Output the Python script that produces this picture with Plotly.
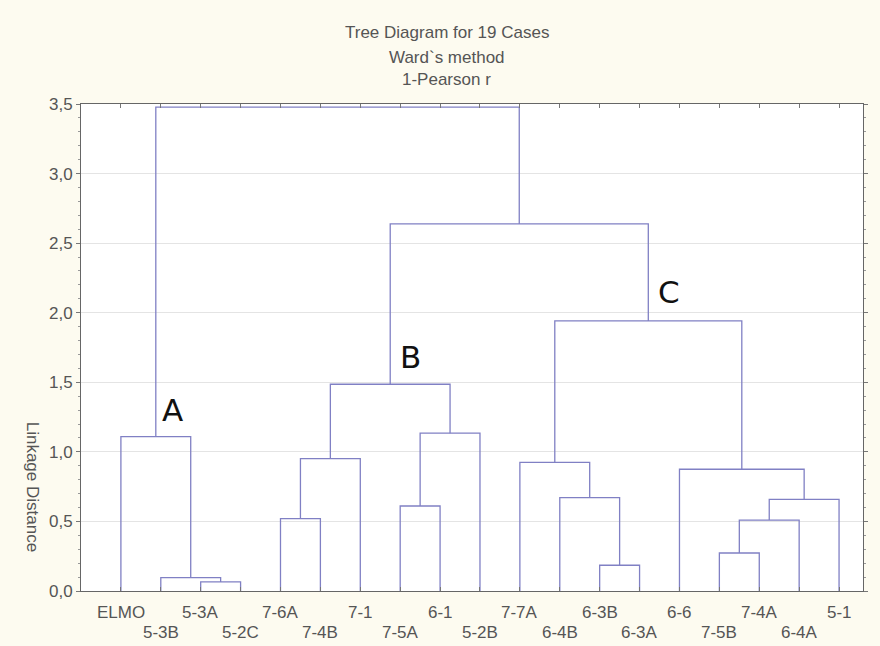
import plotly.graph_objects as go

# Leaves in dendrogram order
leaves = ["ELMO", "5-3B", "5-3A", "5-2C", "7-6A", "7-4B", "7-1", "7-5A", "6-1",
          "5-2B", "7-7A", "6-4B", "6-3B", "6-3A", "6-6", "7-5B", "7-4A", "6-4A", "5-1"]

# Ward's linkage (1 - Pearson r): clusters are referenced by leaf name or by
# the index of an earlier merge ("m<k>")
merge_left = ["5-3A", "5-3B", "ELMO", "7-6A", "m3", "7-5A", "m5", "m4",
              "6-3B", "6-4B", "7-7A", "7-5B", "m11", "m12", "6-6", "m10", "m7", "m2"]
merge_right = ["5-2C", "m0", "m1", "7-4B", "7-1", "6-1", "5-2B", "m6",
               "6-3A", "m8", "m9", "7-4A", "6-4A", "5-1", "m13", "m14", "m15", "m16"]
merge_height = [0.065, 0.096, 1.109, 0.520, 0.951, 0.611, 1.134, 1.486,
                0.185, 0.671, 0.925, 0.273, 0.510, 0.659, 0.875, 1.941, 2.638, 3.477]

cluster_labels = ["A", "B", "C"]
cluster_pos = [(1.30, 1.30), (7.26, 1.68), (13.75, 2.15)]

title_lines = ["Tree Diagram for 19 Cases", "Ward`s method", "1-Pearson r"]
y_ticks = [0.0, 0.5, 1.0, 1.5, 2.0, 2.5, 3.0, 3.5]
y_ticktext = ["0,0", "0,5", "1,0", "1,5", "2,0", "2,5", "3,0", "3,5"]

LINE = "rgb(128,128,196)"
TXT = "#555555"
FONT = "Liberation Sans, Arial, sans-serif"

# Build the link segments
pos = {name: (i, 0.0) for i, name in enumerate(leaves)}
xs, ys = [], []
for k, (a, b, h) in enumerate(zip(merge_left, merge_right, merge_height)):
    xa, ya = pos[a]
    xb, yb = pos[b]
    xs += [xa, xa, xb, xb, None]
    ys += [ya, h, h, yb, None]
    pos["m%d" % k] = ((xa + xb) / 2.0, h)

fig = go.Figure()
fig.add_trace(go.Scatter(x=xs, y=ys, mode="lines",
                         line=dict(color=LINE, width=1.3),
                         hoverinfo="skip", showlegend=False))

W, H = 880, 646
ml, mr, mt, mb = 81, 12, 104, 55
ph = H - mt - mb
pw = W - ml - mr


def py(ypx):
    return (H - mb - ypx) / ph


def px(xpx):
    return (xpx - ml) / pw


annotations = []
# Leaf labels in two staggered rows
for i, name in enumerate(leaves):
    annotations.append(dict(x=i, y=0, xref="x", yref="y", text=name,
                            showarrow=False, xanchor="center", yanchor="middle",
                            yshift=-21 if i % 2 == 0 else -41,
                            font=dict(family=FONT, size=17, color=TXT)))

# Title lines
for line, ypx in zip(title_lines, [32, 57, 80]):
    annotations.append(dict(x=px(449), y=py(ypx), xref="paper", yref="paper",
                            text=line, showarrow=False, xanchor="center",
                            yanchor="middle",
                            font=dict(family=FONT, size=17, color=TXT)))

# Cluster letters
for lab, (cx, cy) in zip(cluster_labels, cluster_pos):
    annotations.append(dict(x=cx, y=cy, xref="x", yref="y", text=lab,
                            showarrow=False, xanchor="center", yanchor="middle",
                            font=dict(family="DejaVu Sans, sans-serif", size=31,
                                      color="#111111")))

# Axis title
annotations.append(dict(x=px(33), y=py(487), xref="paper", yref="paper",
                        text="Linkage Distance", textangle=90, showarrow=False,
                        xanchor="center", yanchor="middle",
                        font=dict(family=FONT, size=17, color=TXT)))

fig.update_layout(
    width=W, height=H,
    margin=dict(l=ml, r=mr, t=mt, b=mb),
    paper_bgcolor="#fdfbf0",
    plot_bgcolor="#ffffff",
    annotations=annotations,
    xaxis=dict(range=[-1, 18.6], tickmode="array",
               tickvals=list(range(len(leaves))), showticklabels=False,
               ticks="inside", ticklen=4, tickcolor="#777777",
               showgrid=False, zeroline=False,
               showline=True, linecolor="#666666", linewidth=1, mirror="ticks"),
    yaxis=dict(range=[0, 3.5], tickmode="array", tickvals=y_ticks,
               ticktext=y_ticktext, ticks="outside", ticklen=4,
               tickcolor="#777777",
               tickfont=dict(family=FONT, size=17, color=TXT),
               showgrid=True, gridcolor="#e4e4e4", gridwidth=1,
               zeroline=False, showline=True, linecolor="#666666",
               linewidth=1, mirror="ticks",
               minor=dict(dtick=0.1, ticks="outside", ticklen=2,
                          tickcolor="#999999", showgrid=False)),
)

fig.write_html("out.html")
